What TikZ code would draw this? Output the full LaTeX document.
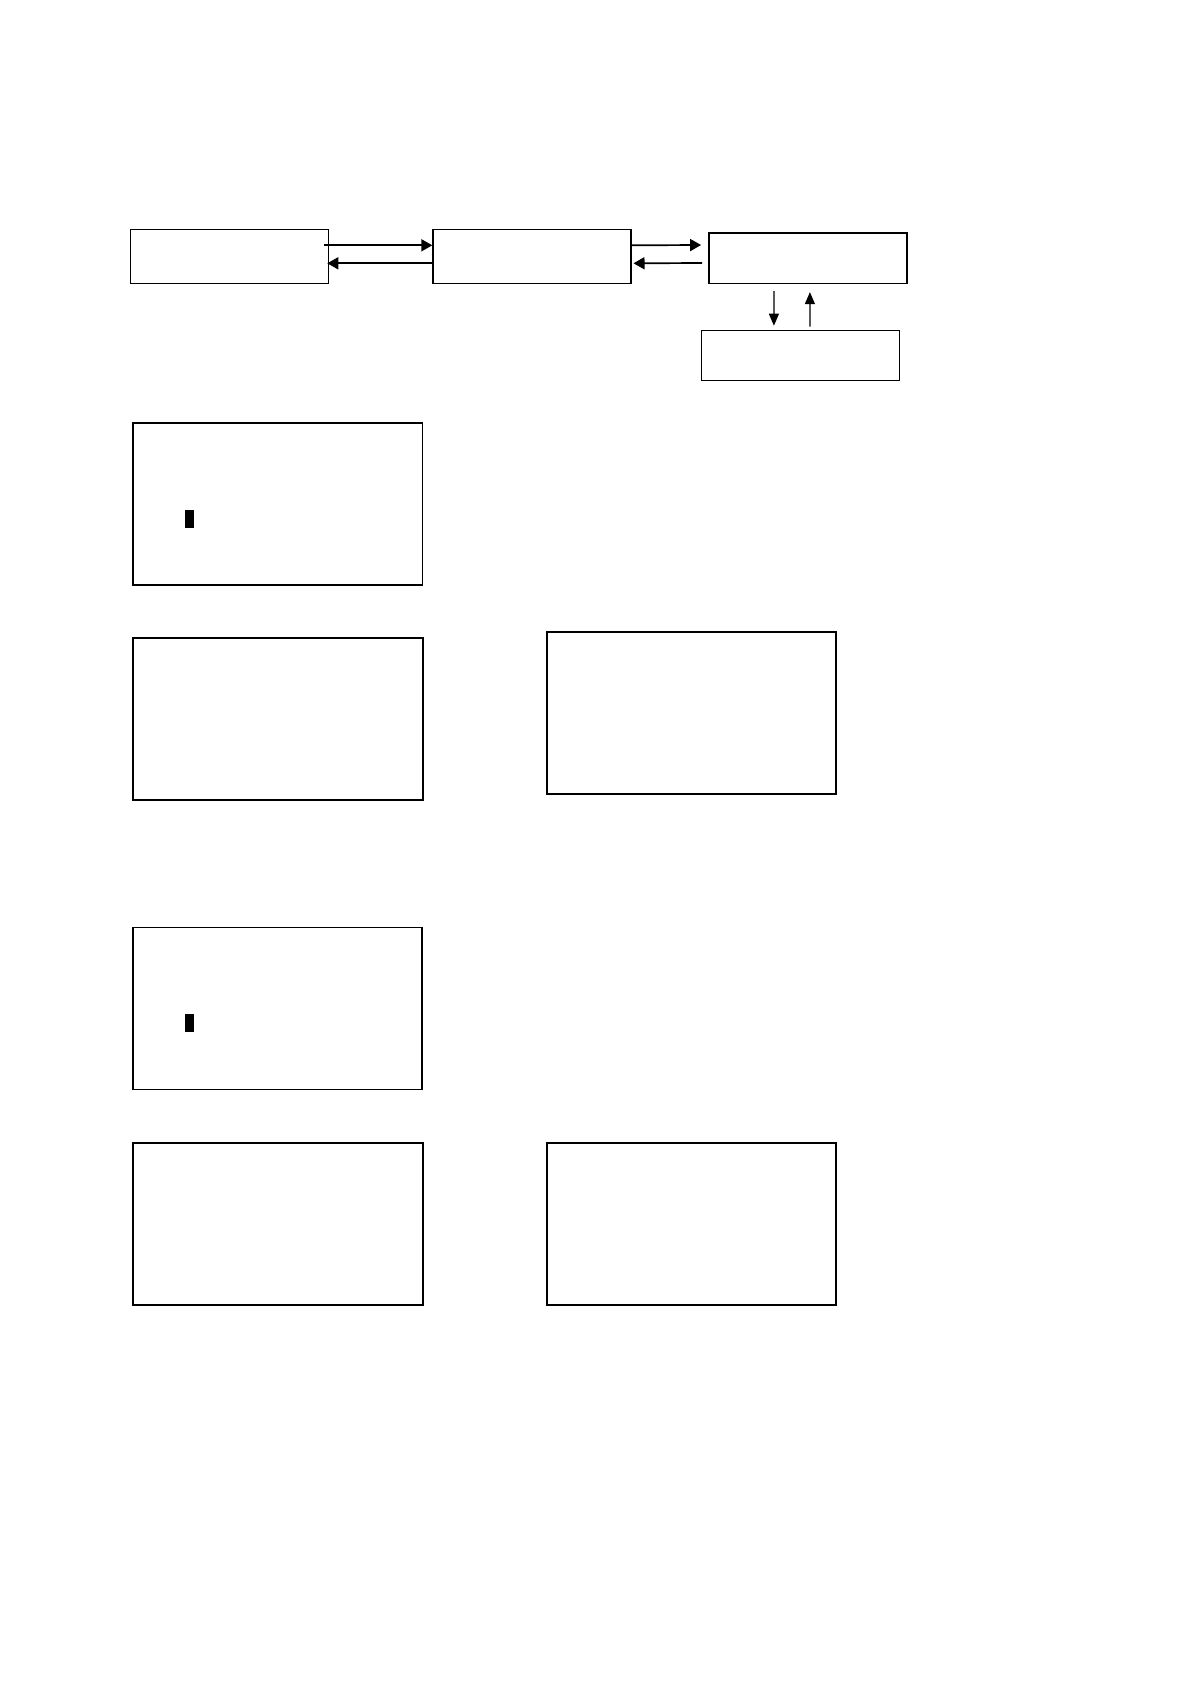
\documentclass[tikz,border=0pt]{standalone}
\usetikzlibrary{arrows.meta, positioning}

\tikzset{
    block/.style={draw, line width=0.6bp, inner sep=0pt, minimum width=99bp, minimum height=27bp},
    panel/.style={draw, line width=0.8bp, inner sep=0pt, minimum width=144.5bp, minimum height=81bp},
    cursor/.style={fill=black, inner sep=0pt, minimum width=4.5bp, minimum height=9bp},
    link/.style={-{Triangle[length=5.5bp,width=6bp]}, line width=0.85bp},
    thinlink/.style={-{Triangle[length=6bp,width=5bp]}, line width=0.6bp},
}

\begin{document}
\begin{tikzpicture}[x=0.5bp, y=-0.5bp]
    \useasboundingbox (0,0) rectangle (1190,1684);

    % chain of blocks
    \node[block] (host) at (229.7,256.3) {};
    \node[block, right=51.5bp of host] (bridge) {};
    \node[block, line width=0.8bp, minimum height=25.3bp, right=38.3bp of bridge, yshift=-0.85bp] (unit) {};
    \node[block, line width=0.8bp, minimum height=25bp, below=22.8bp of unit, xshift=-3.8bp] (store) {};

    \draw[link] ([shift={(-5,-11)}]host.east) -- ([shift={(0,-11)}]bridge.west);
    \draw[link] ([shift={(0,7)}]bridge.west) -- ([shift={(-2,7)}]host.east);
    \draw[link] ([shift={(0,-11)}]bridge.east) -- ([shift={(-7,-13)}]unit.west);
    \draw[link] ([shift={(-6,5)}]unit.west) -- ([shift={(2,7)}]bridge.east);
    \draw[thinlink] ([shift={(-34,7)}]unit.south) -- ([shift={(-26.4,-4)}]store.north);
    \draw[thinlink] ([shift={(9.6,-3)}]store.north) -- ([shift={(2,8)}]unit.south);

    % screens
    \node[panel] (screenA) at (277.8,504.2) {};
    \node[panel, line width=1bp] (screenB) at (278,718.8) {};
    \node[panel, line width=1bp] (screenC) at (691.8,713.3) {};
    \node[panel] (screenD) at (277.7,1008.3) {};
    \node[panel, line width=1bp] (screenE) at (278,1224) {};
    \node[panel, line width=1bp] (screenF) at (691.8,1224.2) {};

    \node[cursor] (caretA) at (189.5,519) {};
    \node[cursor] (caretD) at (189.5,1022.5) {};
\end{tikzpicture}
\end{document}
